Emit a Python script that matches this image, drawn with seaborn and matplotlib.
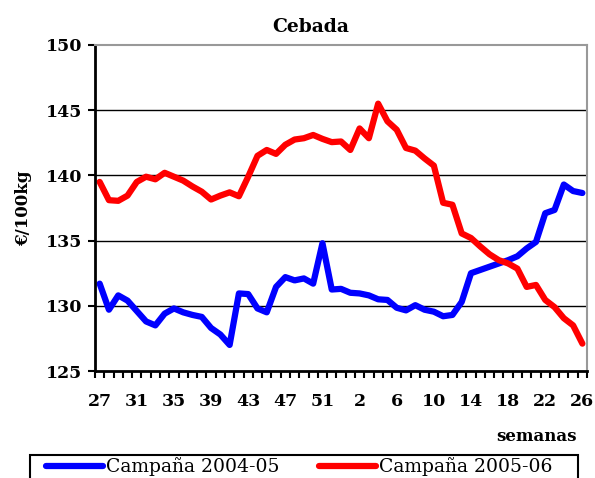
import pandas as pd
import matplotlib
matplotlib.use('Agg')
import matplotlib.pyplot as plt
from matplotlib.patches import Rectangle
import seaborn as sns

# weeks 27..53 of the first year, then 1..26
weeks = list(range(27, 54)) + list(range(1, 27))

campana_0405 = [131.7, 129.7, 130.8, 130.4, 129.6, 128.8, 128.5, 129.4, 129.8, 129.5,
                129.3, 129.15, 128.3, 127.8, 127.0, 130.95, 130.9, 129.8, 129.5, 131.45,
                132.2, 131.95, 132.1, 131.7, 134.8, 131.25, 131.3, 131.0, 130.95, 130.8,
                130.5, 130.45, 129.85, 129.65, 130.05, 129.7, 129.55, 129.2, 129.3, 130.3,
                132.5, 132.75, 133.0, 133.25, 133.5, 133.8, 134.4, 134.9, 137.1, 137.35,
                139.3, 138.8, 138.65]

campana_0506 = [139.5, 138.1, 138.05, 138.45, 139.5, 139.9, 139.7, 140.2, 139.9, 139.6,
                139.15, 138.75, 138.15, 138.45, 138.7, 138.4, 139.9, 141.5, 141.95, 141.65,
                142.35, 142.75, 142.85, 143.1, 142.8, 142.55, 142.6, 141.95, 143.6, 142.85,
                145.5, 144.15, 143.5, 142.1, 141.9, 141.3, 140.75, 137.9, 137.75, 135.55,
                135.2, 134.55, 133.95, 133.5, 133.25, 132.85, 131.45, 131.6, 130.45, 129.9,
                129.05, 128.5, 127.1]

series_names = ['Campaña 2004-05', 'Campaña 2005-06']
colors = ['#0000FF', '#FF0000']

df = pd.DataFrame({
    'pos': list(range(len(weeks))) * 2,
    'precio': campana_0405 + campana_0506,
    'serie': [series_names[0]] * len(weeks) + [series_names[1]] * len(weeks),
})

sns.set_style('white')
plt.rcParams['font.family'] = ['DejaVu Serif']
plt.rcParams.update({
    'text.color': 'black', 'axes.labelcolor': 'black',
    'xtick.color': 'black', 'ytick.color': 'black',
    'xtick.bottom': True, 'ytick.left': True,
})

fig = plt.figure(figsize=(5.95, 4.78), dpi=100)
ax = fig.add_axes([0.1597, 0.2238, 0.8269, 0.6821])

sns.lineplot(data=df, x='pos', y='precio', hue='serie', palette=colors,
             linewidth=4.5, ax=ax, legend=False)

ax.set_xlim(-0.5, len(weeks) - 0.5)
ax.set_ylim(125, 150)
ax.set_yticks([125, 130, 135, 140, 145, 150])
for y in [130, 135, 140, 145]:
    ax.axhline(y, color='black', linewidth=1, zorder=0)

# boundary marks as major ticks, week labels as minor ticks
tick_pos = list(range(0, len(weeks), 4))
ax.set_xticks([i - 0.5 for i in range(len(weeks) + 1)])
ax.set_xticklabels([])
ax.set_xticks(tick_pos, minor=True)
ax.set_xticklabels([str(weeks[i]) for i in tick_pos], minor=True)
ax.tick_params(axis='x', which='major', bottom=True, length=5, width=1.5, direction='out')
ax.tick_params(axis='x', which='minor', bottom=True, length=0, pad=16, labelsize=12.5)
ax.tick_params(axis='y', which='major', left=True, length=5, width=1.5, direction='out',
               labelsize=12.5, pad=4)
for lab in ax.get_xticklabels(minor=True) + ax.get_yticklabels():
    lab.set_fontweight('bold')

for s in ['left', 'bottom']:
    ax.spines[s].set_color('black')
    ax.spines[s].set_linewidth(2)
for s in ['top', 'right']:
    ax.spines[s].set_color('#999999')
    ax.spines[s].set_linewidth(1.5)

ax.set_xlabel('')
ax.set_ylabel('€/100kg', fontsize=12, fontweight='bold', labelpad=10)
fig.text(0.523, 0.9435, 'Cebada', ha='center', va='center', fontsize=13.5, fontweight='bold')
fig.text(0.97, 0.087, 'semanas', ha='right', va='center', fontsize=12, fontweight='bold')

# legend box, cut by the bottom edge of the picture
fig.patches.append(Rectangle((30 / 595, -0.05), 548 / 595, 0.0981, transform=fig.transFigure,
                             fill=False, edgecolor='black', linewidth=1.5))
handles = [plt.Line2D([], [], color=c, linewidth=4.5) for c in colors]
fig.legend(handles, series_names, loc='upper left', ncol=2,
           bbox_to_anchor=(46 / 595, 0.043), bbox_transform=fig.transFigure,
           frameon=False, fontsize=13.5, handlelength=3.05, handletextpad=0.16,
           columnspacing=2.07, borderpad=0, borderaxespad=0)

fig.savefig('out.png', dpi=100)
